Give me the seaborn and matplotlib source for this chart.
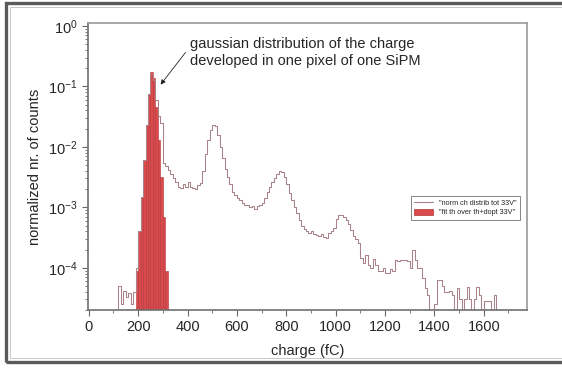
import numpy as np
import pandas as pd
import seaborn as sns
import matplotlib
matplotlib.use("Agg")
import matplotlib.pyplot as plt
from matplotlib.lines import Line2D
from matplotlib.patches import Patch, Rectangle

# Full charge distribution, 10 fC bins starting at 120 fC (normalized counts)
dist_start = 120
bin_width = 10
dist_counts = [
    5e-5, 2.5e-5, 4.2e-5, 3.3e-5, 3.8e-5, 2.5e-5, 4e-5,                 # 120-180
    1e-4, 4e-4, 1.5e-3, 6e-3, 2.3e-2, 7.5e-2, 0.16, 0.13, 0.06, 0.032,   # 190-280
    0.025, 5.5e-3, 4.8e-3, 4.2e-3, 3.5e-3, 3.0e-3, 2.6e-3, 2.2e-3,       # 290-360
    2.1e-3, 2.4e-3, 2.2e-3, 2.6e-3, 2.2e-3, 2.1e-3, 2.0e-3, 2.3e-3,      # 370-440
    2.5e-3, 4.0e-3, 7.5e-3, 1.3e-2, 1.9e-2, 2.3e-2, 2.2e-2, 1.6e-2,      # 450-520
    1.0e-2, 6.5e-3, 4.3e-3, 3.2e-3, 2.4e-3, 1.8e-3, 1.6e-3, 1.4e-3,      # 530-600
    1.3e-3, 1.2e-3, 1.1e-3, 1.1e-3, 1.0e-3, 1.05e-3, 0.95e-3, 1.05e-3,   # 610-680
    1.1e-3, 1.2e-3, 1.4e-3, 1.8e-3, 2.2e-3, 2.6e-3, 3.1e-3, 3.6e-3,      # 690-760
    4.0e-3, 3.8e-3, 3.2e-3, 2.4e-3, 1.7e-3, 1.3e-3, 1.0e-3, 8e-4,        # 770-840
    6.2e-4, 5e-4, 4.4e-4, 4.0e-4, 3.8e-4, 4.1e-4, 3.6e-4, 3.5e-4,        # 850-920
    3.4e-4, 3.6e-4, 3.2e-4, 3.1e-4, 3.7e-4, 4.0e-4, 4.6e-4, 6.5e-4,      # 930-1000
    7.5e-4, 7.6e-4, 7.0e-4, 6.2e-4, 5.2e-4, 4.2e-4, 3.4e-4, 3.0e-4,      # 1010-1080
    2.6e-4, 1.45e-4, 1.2e-4, 1.6e-4, 1.1e-4, 1.0e-4, 1.4e-4, 1.1e-4,     # 1090-1160
    8.7e-5, 9e-5, 1.0e-4, 8.2e-5, 8.2e-5, 9.5e-5, 9e-5, 1.35e-4,         # 1170-1240
    1.3e-4, 1.35e-4, 1.35e-4, 1.35e-4, 1.3e-4, 1.0e-4, 2.0e-4, 1.35e-4,  # 1250-1320
    1.0e-4, 1.0e-4, 6.7e-5, 4.6e-5, 3.5e-5, 0, 0, 2.5e-5,                # 1330-1400
    6.3e-5, 6.3e-5, 5e-5, 4e-5, 4e-5, 4.1e-5, 3.5e-5, 0,                 # 1410-1480
    4.6e-5, 3e-5, 0, 3e-5, 4.8e-5, 3e-5, 0, 3e-5,                        # 1490-1560
    4.8e-5, 3.5e-5, 0, 2.8e-5, 2.8e-5, 2.8e-5, 0, 3.6e-5,                # 1570-1640
]

# Gaussian fit of the single-pixel peak, 10 fC bins starting at 190 fC
fit_start = 190
fit_counts = [9e-5, 4e-4, 1.5e-3, 6e-3, 2.3e-2, 7.5e-2, 0.17, 0.14,
              4.5e-2, 1.3e-2, 3.2e-3, 7e-4, 9e-5]

legend_labels = ['"norm ch distrib tot 33V"', '"fit th over th+dopt 33V"']
annotation = "gaussian distribution of the charge\ndeveloped in one pixel of one SiPM"

# pad the distribution with empty bins so the outline starts and ends at zero
dist_vals = np.array([0.0] + dist_counts + [0.0])
dist_lo = dist_start - bin_width
dist_df = pd.DataFrame({
    "charge": dist_lo + bin_width * (np.arange(len(dist_vals)) + 0.5),
    "counts": dist_vals,
})
dist_range = (dist_lo, dist_lo + bin_width * len(dist_vals))

fit_vals = np.array(fit_counts)
fit_df = pd.DataFrame({
    "charge": fit_start + bin_width * (np.arange(len(fit_vals)) + 0.5),
    "counts": fit_vals,
})
fit_range = (fit_start, fit_start + bin_width * len(fit_vals))

sns.set_theme(style="ticks")
plt.rcParams["font.family"] = ["Liberation Sans", "DejaVu Sans"]
plt.rcParams["mathtext.default"] = "regular"

line_color = "#a98387"
fill_color = "#da4a4c"
edge_color = "#b33537"
spine_color = "#9a9a9a"

fig = plt.figure(figsize=(5.62, 3.69), dpi=100)
ax = fig.add_axes([88 / 562, 1 - 310 / 369, 439 / 562, 287 / 369])

sns.histplot(data=dist_df, x="charge", weights="counts", binwidth=bin_width,
             binrange=dist_range, element="step", fill=False,
             color=line_color, linewidth=0.75, ax=ax)
sns.histplot(data=fit_df, x="charge", weights="counts", binwidth=bin_width,
             binrange=fit_range, element="bars", color=fill_color,
             edgecolor=edge_color, linewidth=0.4, alpha=1.0, ax=ax)

ax.set_yscale("log")
ax.set_xlim(-3, 1775)
ax.set_ylim(2e-5, 1.12)
ax.set_xticks(np.arange(0, 1601, 200))
ax.set_xticks(np.arange(100, 1701, 100), minor=True)

ax.set_xlabel("charge (fC)", fontsize=10.5, labelpad=7)
ax.set_ylabel("normalized nr. of counts", fontsize=10.5, labelpad=4)
ax.tick_params(axis="both", which="major", labelsize=10.5, length=4,
               width=0.8, color="#666666", direction="out")
ax.tick_params(axis="both", which="minor", length=2.5, width=0.6,
               color="#666666", direction="out")
for side in ["left", "bottom", "top", "right"]:
    ax.spines[side].set_visible(True)
    ax.spines[side].set_color(spine_color)
    ax.spines[side].set_linewidth(1.2)
ax.spines["left"].set_color("#707070")
ax.spines["bottom"].set_color("#707070")

ax.annotate(annotation, xy=(291, 0.107), xytext=(412, 0.36),
            textcoords="data", fontsize=10.5, ha="left", va="center",
            linespacing=1.25,
            arrowprops=dict(arrowstyle="-|>", color="#222222", lw=0.6,
                            mutation_scale=7, relpos=(0.0, 0.72),
                            shrinkA=2, shrinkB=0))

handles = [Line2D([], [], color=line_color, lw=0.8),
           Patch(facecolor=fill_color, edgecolor=edge_color, linewidth=0.5)]
leg = ax.legend(handles, legend_labels, loc="upper right",
                bbox_to_anchor=(0.984, 0.397), fontsize=5.2, frameon=True,
                fancybox=False, handlelength=2.6, handleheight=0.9,
                borderpad=0.45, labelspacing=0.3, handletextpad=0.9,
                borderaxespad=0)
leg.get_frame().set_edgecolor("#666666")
leg.get_frame().set_linewidth(0.7)

# panel frame around the whole figure (open on the right edge)
fig.patches.append(Rectangle((6.5 / 562, 1 - 362 / 369), 600 / 562, 359.5 / 369,
                             transform=fig.transFigure, fill=False,
                             edgecolor="#5a5a5a", linewidth=2.4))
fig.patches.append(Rectangle((10 / 562, 1 - 357.5 / 369), 600 / 562, 351 / 369,
                             transform=fig.transFigure, fill=False,
                             edgecolor="#c8c8c8", linewidth=0.7))

fig.savefig("out.png", dpi=100)
